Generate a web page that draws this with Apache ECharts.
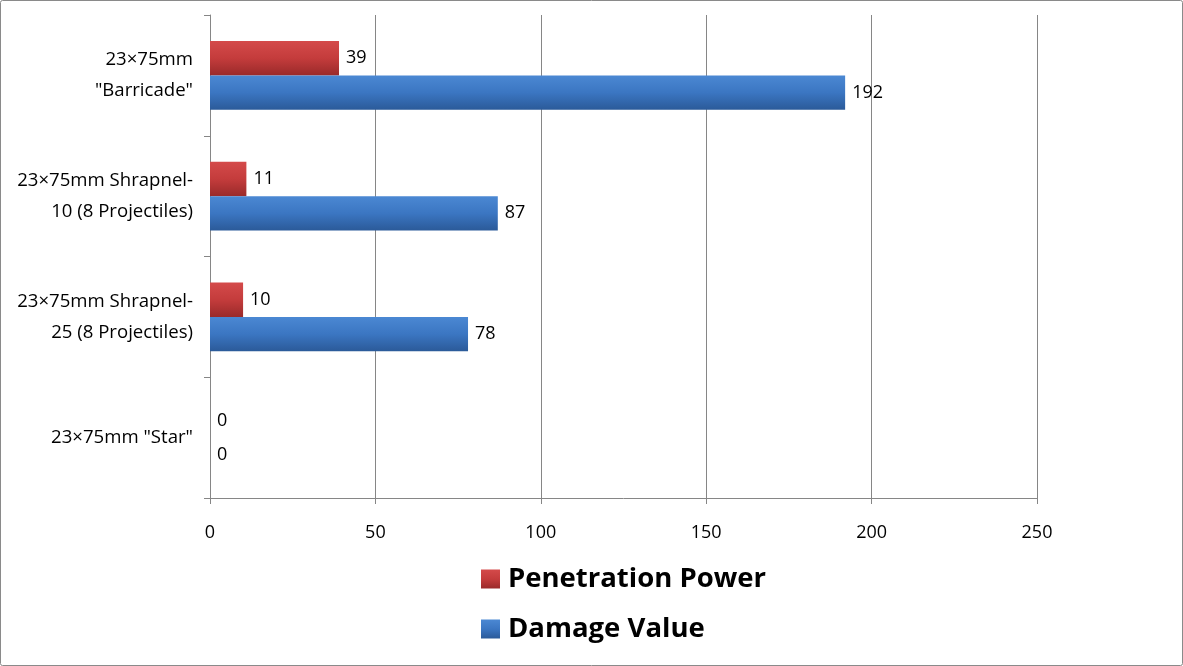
<!DOCTYPE html>
<html>
<head>
<meta charset="utf-8">
<title>23x75mm rounds</title>
<script src="https://cdn.jsdelivr.net/npm/echarts@6/dist/echarts.min.js"></script>
<style>
  html, body { margin: 0; padding: 0; background: #fff; }
  #main { width: 1183px; height: 666px; }
</style>
</head>
<body>
<div id="main"></div>
<script>
// data
var categories = [
  '23×75mm\n"Barricade"',
  '23×75mm Shrapnel-\n10 (8 Projectiles)',
  '23×75mm Shrapnel-\n25 (8 Projectiles)',
  '23×75mm "Star"'
];
var penetrationPower = [39, 11, 10, 0];
var damageValue = [192, 87, 78, 0];
var xTicks = [0, 50, 100, 150, 200, 250];

var font = '"Open Sans", "Liberation Sans", sans-serif';

function grad(top, mid, bottom) {
  return new echarts.graphic.LinearGradient(0, 0, 0, 1, [
    { offset: 0, color: top },
    { offset: 0.5, color: mid },
    { offset: 1, color: bottom }
  ]);
}

var chart = echarts.init(document.getElementById('main'));
var option = {
  animation: false,
  backgroundColor: '#fff',
  graphic: [{
    type: 'rect',
    shape: { x: 0.5, y: 0.5, width: 1182, height: 665, r: 2 },
    style: { fill: 'none', stroke: '#8a8a8a', lineWidth: 1 }
  }],
  grid: { left: 210, right: 146, top: 15, bottom: 168 },
  legend: {
    orient: 'vertical',
    left: 481,
    top: 565,
    padding: 0,
    itemWidth: 19,
    itemHeight: 19,
    itemGap: 22,
    icon: 'rect',
    textStyle: { fontFamily: font, fontSize: 27.5, fontWeight: 'bold', color: '#000', padding: [0, 0, 0, 3] },
    data: ['Penetration Power', 'Damage Value']
  },
  xAxis: {
    type: 'value',
    min: xTicks[0],
    max: xTicks[xTicks.length - 1],
    interval: 50,
    axisLine: { show: true, lineStyle: { color: '#868686' } },
    axisTick: { show: true, length: 6, lineStyle: { color: '#868686' } },
    axisLabel: { fontFamily: font, fontSize: 18, color: '#000', margin: 26 },
    splitLine: { show: true, lineStyle: { color: '#868686' } }
  },
  yAxis: {
    type: 'category',
    inverse: true,
    data: categories,
    axisLine: { show: true, lineStyle: { color: '#868686' } },
    axisTick: { show: true, length: 6, lineStyle: { color: '#868686' } },
    axisLabel: { fontFamily: font, fontSize: 18.6, color: '#000', margin: 17, align: 'right', lineHeight: 31 },
    splitLine: { show: false }
  },
  series: [
    {
      name: 'Penetration Power',
      type: 'bar',
      data: penetrationPower,
      barGap: '0%',
      barCategoryGap: '43%',
      itemStyle: { color: grad('#d44a4a', '#c43c3c', '#9a2a2a') },
      label: { show: true, position: 'right', distance: 7, fontFamily: font, fontSize: 18, color: '#000' }
    },
    {
      name: 'Damage Value',
      type: 'bar',
      data: damageValue,
      itemStyle: { color: grad('#4b88d3', '#3b76c2', '#2b5a99') },
      label: { show: true, position: 'right', distance: 7, fontFamily: font, fontSize: 18, color: '#000' }
    }
  ]
};
chart.setOption(option);
</script>
</body>
</html>
